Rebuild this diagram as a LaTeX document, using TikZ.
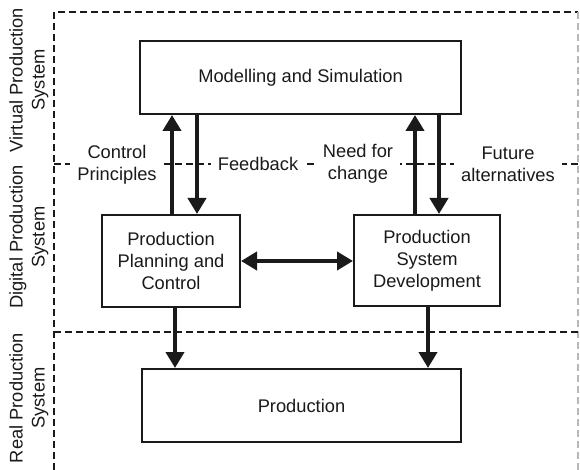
\documentclass[tikz,border=0pt]{standalone}
\usepackage{fontspec}
\setmainfont{Liberation Sans}
\usetikzlibrary{arrows.meta,calc}
\definecolor{ink}{HTML}{1A1A1A}
\tikzset{
  box/.style={draw=ink, line width=2pt, fill=white, inner sep=0pt, align=center,
    text=ink, font=\fontsize{18.3}{22}\selectfont},
  zone/.style={draw=ink, line width=2pt, dash pattern=on 7pt off 4pt},
  zonelabel/.style={rotate=90, align=center, text=ink, inner sep=0pt,
    font=\fontsize{18.3}{22}\selectfont},
  flowlabel/.style={fill=white, align=center, text=ink, inner xsep=7pt, inner ysep=1pt,
    font=\fontsize{18.3}{22}\selectfont},
  arr/.style={draw=ink, line width=4pt, -{Triangle[length=16pt,width=18pt]}},
  darr/.style={draw=ink, line width=4pt, {Triangle[length=16pt,width=18pt]}-{Triangle[length=16pt,width=18pt]}}
}
\begin{document}
\begin{tikzpicture}[x=1pt,y=-1pt]
\useasboundingbox (0,0) rectangle (580,470);

% zone boundaries
\coordinate (tl) at (54,12);
\coordinate (tr) at (578,12);
\coordinate (bl) at (54,470);
\coordinate (br) at (578,470);
\coordinate (m1l) at (54,164);
\coordinate (m1r) at (580,164);
\coordinate (m2l) at (54,332);
\coordinate (m2r) at (580,332);
\draw[zone] (bl) -- (tl) -- (tr);
\draw[zone, draw=black!28, line width=1.2pt] (tr) -- (br);
\draw[zone] (m1l) -- (m1r);
\draw[zone] (m2l) -- (m2r);

% zone names
\node[zonelabel] (virt) at (29,80) {Virtual Production\\System};
\node[zonelabel] (digi) at (29,237) {Digital Production\\System};
\node[zonelabel] (real) at (29,398) {Real Production\\System};

% labels on the boundary between virtual and digital
\node[flowlabel] (ctrl) at (117,165) {Control\\Principles};
\node[flowlabel] (fb) at (258,164) {Feedback};
\node[flowlabel] (need) at (358,164) {Need for\\change};
\node[flowlabel] (fut) at (508,164) {Future\\alternatives};

% blocks
\node[box, minimum width=321pt, minimum height=73pt] (ms) at (300.5,77.5) {Modelling and Simulation};
\node[box, minimum width=138pt, minimum height=92pt] (ppc) at (171,261) {Production\\Planning and\\Control};
\node[box, minimum width=146pt, minimum height=91pt] (psd) at (427,260.5) {Production\\System\\Development};
\node[box, minimum width=319pt, minimum height=73pt] (prod) at (301.5,405.5) {Production};

% connectors
\draw[arr] ([xshift=1pt]ppc.north) -- ([xshift=1pt]ppc.north |- ms.south);
\draw[arr] ([xshift=26pt]ppc.north |- ms.south) -- ([xshift=26pt]ppc.north);
\draw[arr] ([xshift=-12pt]psd.north) -- ([xshift=-12pt]psd.north |- ms.south);
\draw[arr] ([xshift=12pt]psd.north |- ms.south) -- ([xshift=12pt]psd.north);
\draw[darr] (ppc.east) -- (ppc.east -| psd.west);
\draw[arr] ([xshift=4pt]ppc.south) -- ([xshift=4pt]ppc.south |- prod.north);
\draw[arr] ([xshift=1pt]psd.south) -- ([xshift=1pt]psd.south |- prod.north);
\end{tikzpicture}
\end{document}
